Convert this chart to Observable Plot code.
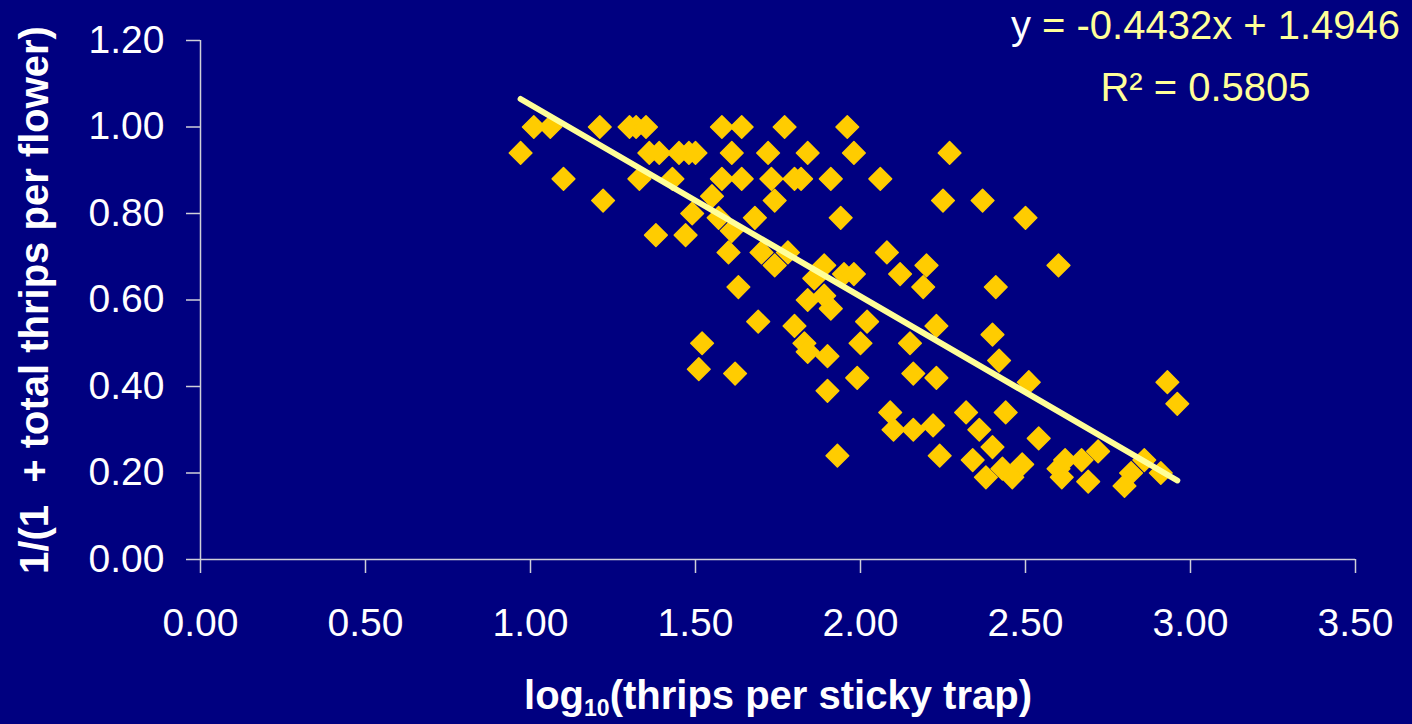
<!DOCTYPE html>
<html>
<head>
<meta charset="utf-8">
<script src="https://cdn.jsdelivr.net/npm/d3@7"></script>
<script src="https://cdn.jsdelivr.net/npm/@observablehq/plot@0.6"></script>
<style>
  html, body { margin: 0; padding: 0; background: #000080; }
  #chart svg { display: block; }
</style>
</head>
<body>
<div id="chart"></div>
<script>
// log10(thrips per sticky trap)
const xValues = [
  0.97, 1.01, 1.06, 1.10, 1.21, 1.22, 1.30, 1.32, 1.35, 1.33,
  1.36, 1.39, 1.43, 1.45, 1.48, 1.50, 1.38, 1.47, 1.49, 1.55,
  1.57, 1.58, 1.64, 1.58, 1.64, 1.61, 1.61, 1.60, 1.68, 1.70,
  1.72, 1.73, 1.74, 1.74, 1.77, 1.78, 1.80, 1.82, 1.84, 1.63,
  1.69, 1.80, 1.52, 1.51, 1.62, 1.86, 1.89, 1.91, 1.94, 1.96,
  1.98, 1.95, 1.98, 1.84, 1.89, 1.91, 2.02, 2.06, 2.08, 2.12,
  2.20, 2.19, 2.25, 2.27, 2.37, 2.50, 2.60, 2.41, 1.83, 1.84,
  1.90, 2.00, 2.15, 1.99, 2.16, 1.90, 2.23, 2.23, 2.09, 2.10,
  2.16, 2.22, 1.93, 2.24, 2.40, 2.42, 2.51, 2.32, 2.44, 2.36,
  2.40, 2.54, 2.34, 2.38, 2.43, 2.46, 2.49, 2.60, 2.62, 2.67,
  2.61, 2.69, 2.72, 2.82, 2.80, 2.86, 2.91, 2.93, 2.96
];
// 1/(1 + total thrips per flower)
const yValues = [
  0.94, 1.00, 1.00, 0.88, 1.00, 0.83, 1.00, 1.00, 1.00, 0.88,
  0.94, 0.94, 0.88, 0.94, 0.94, 0.94, 0.75, 0.75, 0.80, 0.84,
  0.79, 1.00, 1.00, 0.88, 0.88, 0.94, 0.76, 0.71, 0.79, 0.71,
  0.94, 0.88, 0.83, 0.68, 1.00, 0.71, 0.88, 0.88, 0.94, 0.63,
  0.55, 0.54, 0.50, 0.44, 0.43, 0.65, 0.68, 0.88, 0.79, 1.00,
  0.94, 0.66, 0.66, 0.60, 0.61, 0.58, 0.55, 0.88, 0.71, 0.66,
  0.68, 0.63, 0.83, 0.94, 0.83, 0.79, 0.68, 0.63, 0.50, 0.48,
  0.47, 0.50, 0.50, 0.42, 0.43, 0.39, 0.42, 0.54, 0.34, 0.30,
  0.30, 0.31, 0.24, 0.24, 0.52, 0.46, 0.41, 0.34, 0.34, 0.30,
  0.26, 0.28, 0.23, 0.19, 0.21, 0.19, 0.22, 0.21, 0.23, 0.23,
  0.19, 0.18, 0.25, 0.20, 0.17, 0.23, 0.20, 0.41, 0.36
];

const xTicks = [0, 0.5, 1, 1.5, 2, 2.5, 3, 3.5];
const yTicks = [0, 0.2, 0.4, 0.6, 0.8, 1.0, 1.2];

// fitted trend line as stated on the chart
const slope = -0.4432;
const intercept = 1.4946;
const rSquared = 0.5805;
const trendX = [0.97, 2.96];

const equationText = "y = -0.4432x + 1.4946";
const rSquaredText = "R² = 0.5805";
const xTitleParts = ["log", "10", "(thrips per sticky trap)"];
const yTitle = "1/(1  + total thrips per flower)";

const points = xValues.map((x, i) => ({x, y: yValues[i]}));
const trend = trendX.map(x => ({x, y: slope * x + intercept}));

const FONT = "'Liberation Sans', Arial, Helvetica, sans-serif";
const AXIS = "#cfcfd8";

const plot = Plot.plot({
  width: 1412,
  height: 724,
  marginLeft: 200,
  marginRight: 57,
  marginTop: 40,
  marginBottom: 165,
  style: {background: "#000080", color: "white", fontFamily: FONT, overflow: "visible"},
  x: {domain: [0, 3.5]},
  y: {domain: [0, 1.2]},
  marks: [
    Plot.ruleX([0], {stroke: AXIS, strokeWidth: 1.5}),
    Plot.ruleY([0], {stroke: AXIS, strokeWidth: 1.5}),
    Plot.axisY(yTicks, {
      tickSize: 14, tickPadding: 22, tickFormat: d => d.toFixed(2),
      fontSize: 39, stroke: AXIS, strokeWidth: 1.5, fill: "white", label: null
    }),
    Plot.axisX(xTicks, {
      tickSize: 14, tickPadding: 35, tickFormat: d => d.toFixed(2),
      fontSize: 39, stroke: AXIS, strokeWidth: 1.5, fill: "white", label: null
    }),
    Plot.dot(points, {
      x: "x", y: "y", symbol: "diamond2", r: 10.2,
      fill: "#FFCC00", stroke: "#FFCC00", strokeWidth: 1.5, strokeLinejoin: "round"
    }),
    Plot.line(trend, {
      x: "x", y: "y", stroke: "#FFFF99", strokeWidth: 6, strokeLinecap: "round"
    }),
    Plot.text([equationText], {
      text: d => d, frameAnchor: "top-right", textAnchor: "middle", lineAnchor: "bottom",
      dx: -150, dy: -2, fontSize: 40, fill: "#FFFF99"
    }),
    Plot.text([rSquaredText], {
      text: d => d, frameAnchor: "top-right", textAnchor: "middle", lineAnchor: "bottom",
      dx: -150, dy: 60, fontSize: 40, fill: "#FFFF99"
    }),
    Plot.text([xTitleParts.join("")], {
      text: d => d, frameAnchor: "bottom", textAnchor: "middle", lineAnchor: "bottom",
      dy: 149, fontSize: 40, fontWeight: "bold", fill: "white"
    }),
    Plot.text([yTitle], {
      text: d => d, frameAnchor: "left", textAnchor: "middle", lineAnchor: "middle",
      rotate: -90, dx: -165, fontSize: 40, fontWeight: "bold", fill: "white"
    })
  ]
});

document.getElementById("chart").appendChild(plot);

// Rich text: white "y" in equation, subscript "10" in x title
const svg = d3.select(plot);
svg.selectAll("text").each(function() {
  const t = d3.select(this);
  const s = this.textContent;
  if (s === equationText) {
    t.text(null);
    t.append("tspan").attr("fill", "white").text(equationText.slice(0, 1));
    t.append("tspan").text(equationText.slice(1));
  } else if (s === xTitleParts.join("")) {
    t.text(null);
    t.append("tspan").text(xTitleParts[0]);
    t.append("tspan").attr("font-size", "23px").attr("dy", "7").text(xTitleParts[1]);
    t.append("tspan").attr("dy", "-7").text(xTitleParts[2]);
  }
});
</script>
</body>
</html>
